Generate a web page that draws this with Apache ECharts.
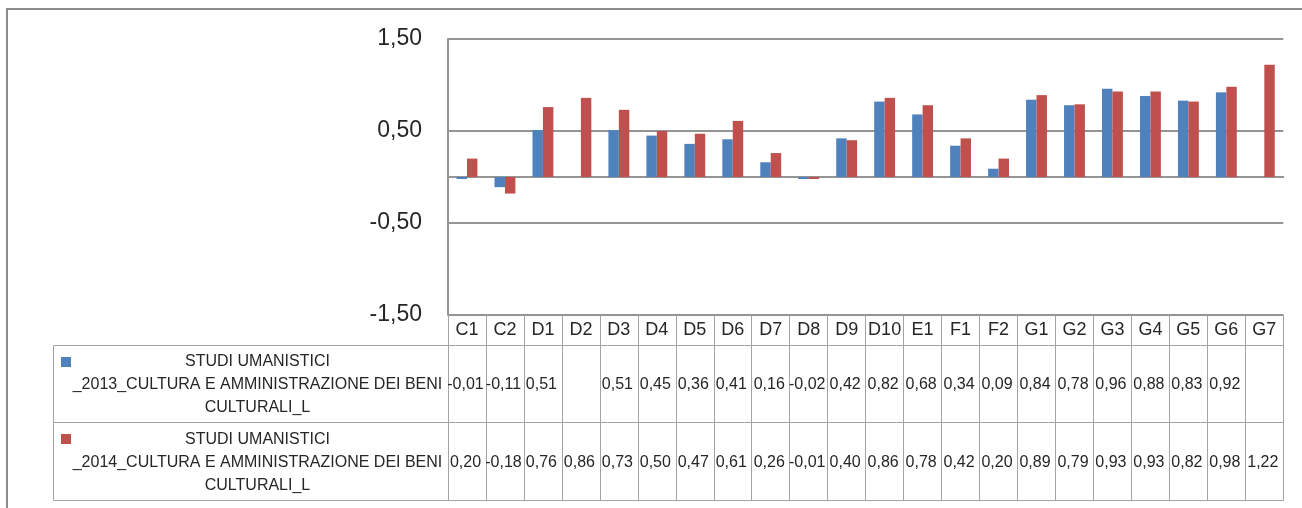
<!DOCTYPE html>
<html><head><meta charset="utf-8">
<script src="https://cdn.jsdelivr.net/npm/echarts@6/dist/echarts.min.js"></script>
<style>html,body{margin:0;padding:0;background:#fff;}#c{width:1302px;height:508px;}</style>
</head><body><div id="c"></div>
<script>
const categories = ['C1','C2','D1','D2','D3','D4','D5','D6','D7','D8','D9','D10','E1','F1','F2','G1','G2','G3','G4','G5','G6','G7'];
const values2013 = [-0.01,-0.11,0.51,null,0.51,0.45,0.36,0.41,0.16,-0.02,0.42,0.82,0.68,0.34,0.09,0.84,0.78,0.96,0.88,0.83,0.92,null];
const values2014 = [0.20,-0.18,0.76,0.86,0.73,0.50,0.47,0.61,0.26,-0.01,0.40,0.86,0.78,0.42,0.20,0.89,0.79,0.93,0.93,0.82,0.98,1.22];
const seriesNames = [
  'STUDI UMANISTICI _2013_CULTURA E AMMINISTRAZIONE DEI BENI CULTURALI_L',
  'STUDI UMANISTICI _2014_CULTURA E AMMINISTRAZIONE DEI BENI CULTURALI_L'
];
const legendLines = [
  ['STUDI UMANISTICI', '_2013_CULTURA E AMMINISTRAZIONE DEI BENI', 'CULTURALI_L'],
  ['STUDI UMANISTICI', '_2014_CULTURA E AMMINISTRAZIONE DEI BENI', 'CULTURALI_L']
];
const yTickLabels = [-1.5, -0.5, 0.5, 1.5];
const colors = ['#4F81BD', '#C0504D'];

const FONT = 'Liberation Sans';
const TEXT = '#262626';
const GRID_C = '#949494';
const TABLE_C = '#a3a3a3';

const fmt = v => (v === null || v === undefined) ? '' : v.toFixed(2).replace('.', ',');

const chart = echarts.init(document.getElementById('c'), null, {renderer: 'canvas'});

const gridLeft = 448, gridTop = 39, gridBottomY = 315, gridRightX = 1283.3;
const rowLines = [345, 422, 500];

function tableAxis(offset, tickLen, labelFn, margin, fontSize, padRight) {
  return {
    type: 'category', data: categories, position: 'bottom', offset: offset,
    boundaryGap: true,
    axisLine: {show: true, onZero: false, lineStyle: {color: TABLE_C, width: 1}},
    axisTick: {show: tickLen > 0, length: tickLen, interval: 0, alignWithLabel: false, lineStyle: {color: TABLE_C, width: 1}},
    axisLabel: {show: !!labelFn, interval: 0, hideOverlap: false, formatter: labelFn || (() => ''),
      margin: margin, color: TEXT, fontFamily: FONT, fontSize: fontSize, verticalAlign: 'middle',
      padding: [0, padRight || 0, 0, 0]},
    splitLine: {show: false}
  };
}

const option = {
  backgroundColor: '#fff',
  animation: false,
  grid: {left: gridLeft, top: gridTop, right: 1302 - gridRightX, bottom: 508 - gridBottomY, outerBoundsMode: 'none', containLabel: false},
  xAxis: [
    {
      type: 'category', data: categories, position: 'bottom',
      axisLine: {show: true, onZero: true, lineStyle: {color: GRID_C, width: 2}},
      axisTick: {show: false}, axisLabel: {show: false}, splitLine: {show: false}
    },
    Object.assign(tableAxis(0, 30, v => v, 15, 18), {axisLine: {show: false, onZero: false}}),
    tableAxis(30, 77, (v, i) => fmt(values2013[i]), 40, 16, 3),
    tableAxis(107, 78, (v, i) => fmt(values2014[i]), 41, 16, 3),
    tableAxis(185, 0, null, 0, 16)
  ],
  yAxis: {
    type: 'value', min: -1.5, max: 1.5, interval: 0.5,
    axisLine: {show: true, lineStyle: {color: GRID_C, width: 2}},
    axisTick: {show: false},
    splitLine: {show: true, lineStyle: {color: [GRID_C, 'rgba(0,0,0,0)'], width: 2}},
    axisLabel: {
      margin: 26, color: TEXT, fontFamily: FONT, fontSize: 23,
      formatter: v => yTickLabels.some(t => Math.abs(t - v) < 1e-9) ? fmt(v) : ''
    }
  },
  series: [
    {name: seriesNames[0], type: 'bar', xAxisIndex: 0, data: values2013, barGap: '0%', barCategoryGap: '45%', barMinHeight: 2, z: 5, itemStyle: {color: colors[0]}},
    {name: seriesNames[1], type: 'bar', xAxisIndex: 0, data: values2014, barGap: '0%', barCategoryGap: '45%', barMinHeight: 2, z: 5, itemStyle: {color: colors[1]}}
  ],
  graphic: []
};

// outer chart frame (partially cropped)
option.graphic.push({type: 'rect', shape: {x: 7, y: 9, width: 1400, height: 600}, style: {fill: 'none', stroke: '#8c8c8c', lineWidth: 2}, silent: true});
// legend cell borders
const lx = 53.5;
option.graphic.push({type: 'polyline', shape: {points: [[gridLeft, rowLines[0] + 0.5], [lx, rowLines[0] + 0.5], [lx, rowLines[2] + 0.5], [gridLeft, rowLines[2] + 0.5]]}, style: {fill: 'none', stroke: TABLE_C, lineWidth: 1}, silent: true});
option.graphic.push({type: 'line', shape: {x1: lx, y1: rowLines[1] + 0.5, x2: gridLeft, y2: rowLines[1] + 0.5}, style: {stroke: TABLE_C, lineWidth: 1}, silent: true});
// legend keys + names
[0, 1].forEach(k => {
  const top = rowLines[k], bottom = rowLines[k + 1];
  option.graphic.push({type: 'rect', shape: {x: 61, y: top + 12, width: 10, height: 10}, style: {fill: colors[k]}, silent: true});
  option.graphic.push({type: 'text', x: 257.5, y: (top + bottom) / 2 + 1.5,
    style: {text: legendLines[k].join('\n'), fill: TEXT, font: '16px "' + FONT + '"', align: 'center', verticalAlign: 'middle', lineHeight: 23}, silent: true});
});

chart.setOption(option);
</script></body></html>
